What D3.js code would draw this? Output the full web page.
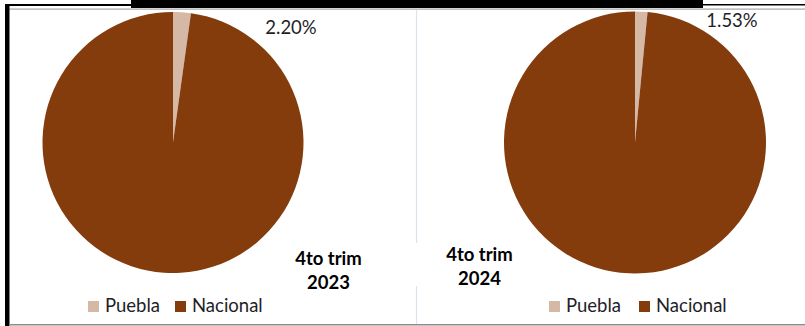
<!DOCTYPE html>
<html>
<head>
<meta charset="utf-8">
<script src="https://cdn.jsdelivr.net/npm/d3@7"></script>
<style>
  html, body { margin: 0; padding: 0; background: #fff; }
  svg { display: block; }
</style>
</head>
<body>
<svg id="chart" width="805" height="326"></svg>
<script>
const categories = ["Puebla", "Nacional"];
const periodLines = [["4to trim", "2023"], ["4to trim", "2024"]];
const values2023 = [2.20, 97.80];
const values2024 = [1.53, 98.47];
const labelText = ["2.20%", "1.53%"];
const colors = ["#D5B8A6", "#843C0C"];

const svg = d3.select("#chart");
const W = 805, H = 326;

// frame
svg.append("rect").attr("x", 0).attr("y", 0).attr("width", W).attr("height", H).attr("fill", "#fff");
// top title box bottom edge (cropped)
svg.append("rect").attr("x", 131).attr("y", 0).attr("width", 572).attr("height", 8).attr("fill", "#000");
// thin top lines left and right of title box
svg.append("rect").attr("x", 5).attr("y", 4).attr("width", 127).attr("height", 2).attr("fill", "#000");
svg.append("rect").attr("x", 702).attr("y", 4).attr("width", 103).attr("height", 1.5).attr("fill", "#000");
// grey line under top
svg.append("rect").attr("x", 9).attr("y", 8.5).attr("width", W - 9).attr("height", 1.2).attr("fill", "#a6a6a6");
// left thick border
svg.append("rect").attr("x", 5).attr("y", 4).attr("width", 4.5).attr("height", H - 4).attr("fill", "#000");
// bottom grey line
svg.append("rect").attr("x", 9).attr("y", 324).attr("width", W - 9).attr("height", 1.5).attr("fill", "#8c8c8c");
// divider
svg.append("line").attr("x1", 416.5).attr("x2", 416.5).attr("y1", 10).attr("y2", 243)
  .attr("stroke", "#dce3ec").attr("stroke-width", 1.2);
svg.append("line").attr("x1", 416.5).attr("x2", 416.5).attr("y1", 286).attr("y2", 324)
  .attr("stroke", "#dce3ec").attr("stroke-width", 1.2);

const pie = d3.pie().sort(null).value(d => d);
const panels = [
  { values: values2023, cx: 173, cy: 142.5, r: 130.5, label: labelText[0], lx: 118, ly: -109,
    period: periodLines[0], px: 328.5, py: 264.5, legendX: [88, 175] },
  { values: values2024, cx: 635, cy: 142.5, r: 131, label: labelText[1], lx: 97, ly: -116,
    period: periodLines[1], px: 479.5, py: 261, legendX: [549, 639] }
];

panels.forEach(p => {
  const g = svg.append("g").attr("transform", `translate(${p.cx},${p.cy})`);
  const arc = d3.arc().innerRadius(0).outerRadius(p.r);
  g.selectAll("path").data(pie(p.values)).join("path")
    .attr("d", arc)
    .attr("fill", (d, i) => colors[i]);
  g.append("text").attr("x", p.lx).attr("y", p.ly)
    .attr("text-anchor", "middle")
    .attr("font-family", "Lato, 'Open Sans', sans-serif")
    .attr("font-size", 18.5)
    .attr("fill", "#1e1e28")
    .text(p.label);

  // period label
  p.period.forEach((t, i) => {
    svg.append("text").attr("x", p.px).attr("y", p.py + i * 24)
      .attr("text-anchor", "middle")
      .attr("font-family", "Lato, 'Open Sans', sans-serif")
      .attr("font-weight", "bold")
      .attr("font-size", 18.5)
      .attr("fill", "#000")
      .text(t);
  });

  // legend
  categories.forEach((c, i) => {
    const x = p.legendX[i];
    svg.append("rect").attr("x", x).attr("y", 301).attr("width", 11).attr("height", 11)
      .attr("fill", colors[i]);
    svg.append("text").attr("x", x + 17).attr("y", 312)
      .attr("font-family", "Lato, 'Open Sans', sans-serif")
      .attr("font-size", 18.5)
      .attr("fill", "#1e1e28")
      .text(c);
  });
});
</script>
</body>
</html>
